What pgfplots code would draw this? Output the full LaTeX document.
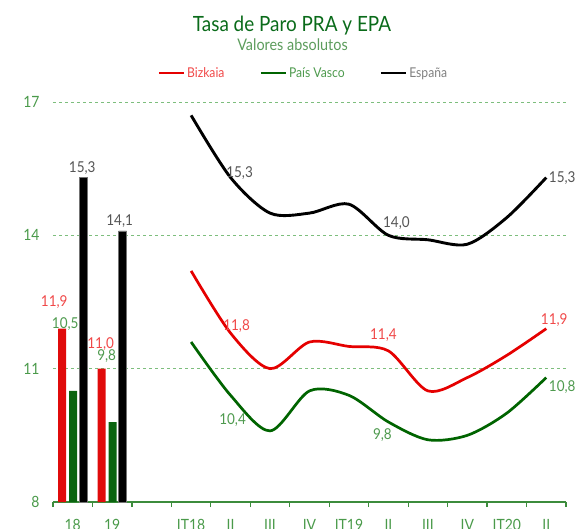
\documentclass[border=0pt]{standalone}
\usepackage{fontspec}
\setmainfont{Lato}[FakeStretch=0.9]
\usepackage{pgfplots}
\usepackage{pgfplotstable}
\pgfplotsset{compat=1.18}
\definecolor{titlegreen}{HTML}{0A6B1A}
\definecolor{subgreen}{HTML}{5C9C5C}
\definecolor{tickgreen}{HTML}{4A9A4A}
\definecolor{axisgreen}{HTML}{3C8C3C}
\definecolor{gridgreen}{HTML}{7DBE7D}
\definecolor{barred}{HTML}{E00B0B}
\definecolor{bargreen}{HTML}{0A640F}
\definecolor{linered}{HTML}{E50000}
\definecolor{linegreen}{HTML}{006400}
\definecolor{lblred}{HTML}{F04848}
\definecolor{lblgreen}{HTML}{4E9A4E}
\definecolor{lblgray}{HTML}{555555}

% annual bars (x: 0 = 18, 1 = 19); dx includes the bar shift
\pgfplotstableread{
x y lbl dx dy
0 11.9 11,9 -18.5 27
1 11.0 11,0 -11.5 25
}\barBiz
\pgfplotstableread{
x y lbl dx dy
0 10.5 10,5 -7.5 67
1 9.8 9,8 -5.5 66
}\barPV
\pgfplotstableread{
x y lbl dx dy
0 15.3 15,3 9.5 9
1 14.1 14,1 7.5 10
}\barEsp

% quarters (x: 3 = IT18 ... 12 = II 2020)
\pgfplotstableread{
x y lbl dx dy
3 13.2 {} 0 0
4 11.8 11,8 6 7
5 11.0 {} 0 0
6 11.6 {} 0 0
7 11.5 {} 0 0
8 11.4 11,4 -5 16
9 10.5 {} 0 0
10 10.8 {} 0 0
11 11.3 {} 0 0
12 11.9 11,9 8 9
}\lineBiz
\pgfplotstableread{
x y lbl dx dy
3 11.6 {} 0 0
4 10.4 10,4 2 -25
5 9.6 {} 0 0
6 10.5 {} 0 0
7 10.4 {} 0 0
8 9.8 9,8 -6 -13
9 9.4 {} 0 0
10 9.5 {} 0 0
11 10.0 {} 0 0
12 10.8 10,8 16 -10
}\linePV
\pgfplotstableread{
x y lbl dx dy
3 16.7 {} 0 0
4 15.3 15,3 9 4
5 14.5 {} 0 0
6 14.5 {} 0 0
7 14.7 {} 0 0
8 14.0 14,0 8 12
9 13.9 {} 0 0
10 13.8 {} 0 0
11 14.4 {} 0 0
12 15.3 15,3 16 -1
}\lineEsp

\pgfplotsset{
  vlabel/.style={
    nodes near coords, point meta=explicit symbolic,
    visualization depends on={\thisrow{dx}\as\labdx},
    visualization depends on={\thisrow{dy}\as\labdy},
    every node near coord/.append style={anchor=center, inner sep=0pt,
      xshift=\labdx pt, yshift=\labdy pt,
      font=\fontsize{15}{17}\selectfont, text=#1}},
  vbar/.style={ybar, bar width=8pt, forget plot}
}

\begin{document}
\begin{tikzpicture}
\begin{axis}[
  at={(53pt,26pt)}, anchor=south west,
  scale only axis, width=513pt, height=400pt,
  xmin=-0.5, xmax=12.5, ymin=8, ymax=17,
  axis x line*=bottom, axis y line*=left,
  x axis line style={axisgreen, line width=1.4pt},
  y axis line style={draw=none},
  xtick={0,...,12},
  xticklabels={18,19,,IT18,II,III,IV,IT19,II,III,IV,IT20,II},
  minor xtick={-0.5,0.5,...,12.5},
  major tick length=0pt, minor tick length=5pt, tick align=outside,
  xtick style={axisgreen, line width=1.2pt},
  ytick={8,11,14,17}, ytick style={draw=none},
  ymajorgrids, major grid style={dashed, gridgreen, line width=0.6pt},
  /pgf/number format/assume math mode=true,
  tick label style={text=tickgreen, font=\fontsize{15.5}{17}\selectfont},
  yticklabel style={xshift=-10pt},
  xticklabel style={yshift=-14pt},
  legend style={at={(0.488,1.0725)}, anchor=center, draw=none, fill=none,
    inner sep=0pt, legend columns=-1, font=\fontsize{13.5}{15}\selectfont,
    /tikz/every even column/.append style={column sep=33pt}},
  legend image code/.code={\draw[#1, line width=2.6pt] (0pt,0pt) -- (25pt,0pt);},
]
\addplot[vbar, bar shift=-10.5pt, fill=barred, draw=none, vlabel=lblred]
  table[x=x, y=y, meta=lbl] {\barBiz};
\addplot[vbar, bar shift=0.5pt, fill=bargreen, draw=none, vlabel=lblgreen]
  table[x=x, y=y, meta=lbl] {\barPV};
\addplot[vbar, bar shift=10.5pt, fill=black, draw=black!55, line width=0.5pt, vlabel=lblgray]
  table[x=x, y=y, meta=lbl] {\barEsp};

\addplot[linered, line width=2.7pt, smooth, no markers, vlabel=lblred]
  table[x=x, y=y, meta=lbl] {\lineBiz};
\addlegendentry{\textcolor{lblred}{Bizkaia}}
\addplot[linegreen, line width=2.7pt, smooth, no markers, vlabel=lblgreen]
  table[x=x, y=y, meta=lbl] {\linePV};
\addlegendentry{\textcolor{lblgreen}{País Vasco}}
\addplot[black, line width=2.9pt, smooth, no markers, vlabel=lblgray]
  table[x=x, y=y, meta=lbl] {\lineEsp};
\addlegendentry{\textcolor{gray}{España}}
\end{axis}
\node[anchor=base, text=titlegreen, font=\fontsize{21}{24}\selectfont] at (292pt,496pt) {Tasa de Paro PRA y EPA};
\node[anchor=base, text=subgreen, font=\fontsize{16}{18}\selectfont] at (292.5pt,477pt) {Valores absolutos};
\pgfresetboundingbox
\useasboundingbox (0pt,0pt) rectangle (576pt,528pt);
\end{tikzpicture}
\end{document}
